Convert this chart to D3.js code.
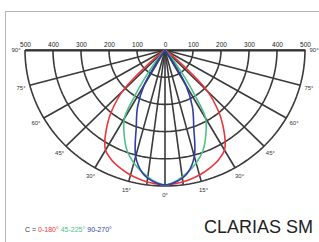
<!DOCTYPE html>
<html>
<head>
<meta charset="utf-8">
<script src="https://cdn.jsdelivr.net/npm/d3@7"></script>
<style>
  body { margin: 0; background: #fff; }
  svg { display: block; font-family: "Liberation Sans", Arial, sans-serif; }
</style>
</head>
<body>
<div id="chart"></div>
<script>
// polar angles (deg from nadir) and intensities (cd) per C-plane
const angles = [0, 5, 10, 15, 20, 25, 30, 32.5, 35, 37.5, 40, 45, 50, 55, 60, 90];
const c0_180 = [496, 492, 485, 476, 463, 448, 425, 400, 368, 335, 300, 215, 60, 10, 0, 0];
const c45_225 = [496, 482, 458, 430, 395, 345, 290, 205, 125, 60, 20, 0, 0, 0, 0, 0];
const c90_270 = [496, 485, 460, 405, 300, 232, 150, 60, 10, 0, 0, 0, 0, 0, 0, 0];

const seriesNames = ["0-180°", "45-225°", "90-270°"];
const seriesColors = ["#e8363c", "#4dbf8c", "#2f3fa6"];

const rings = [100, 200, 300, 400, 500];
const topTicks = [-500, -400, -300, -200, -100, 0, 100, 200, 300, 400, 500];
const spokes = [-90, -75, -60, -45, -30, -15, -7.5, 0, 7.5, 15, 30, 45, 60, 75, 90];
const angleLabels = [-90, -75, -60, -45, -30, -15, 0, 15, 30, 45, 60, 75, 90];

const width = 319, height = 242;
const cx = 165, cy = 50;

const xs = d3.scaleLinear().domain([-500, 500]).range([cx - 140, cx + 140]);
const ry = d3.scaleLinear().domain([0, 500]).range([0, 136]);

function px(r, a) { return xs(r * Math.sin(a * Math.PI / 180)); }
function py(r, a) { return cy + ry(r * Math.cos(a * Math.PI / 180)); }

const svg = d3.select("#chart").append("svg")
    .attr("width", width)
    .attr("height", height);

// frame
svg.append("path")
    .attr("d", "M5.5,242V11.5H319")
    .attr("fill", "none")
    .attr("stroke", "#b4b4b4")
    .attr("stroke-width", 1);

const grid = svg.append("g")
    .attr("stroke", "#3a3a3a")
    .attr("stroke-width", 1.6)
    .attr("fill", "none");

// rings
const arcAngles = d3.range(-90, 90.1, 2);
const ringLine = d3.line();
grid.selectAll(".ring")
    .data(rings)
    .enter()
    .append("path")
    .attr("d", r => ringLine(arcAngles.map(a => [px(r, a), py(r, a)])));

// spokes
grid.selectAll(".spoke")
    .data(spokes)
    .enter()
    .append("line")
    .attr("x1", cx).attr("y1", cy)
    .attr("x2", a => px(500, a))
    .attr("y2", a => py(500, a));

// top axis with intensity labels
const axis = d3.axisTop(xs)
    .tickValues(topTicks)
    .tickFormat(d => Math.abs(d))
    .tickSize(0)
    .tickPadding(3);

const ax = svg.append("g")
    .attr("transform", `translate(0,${cy})`)
    .call(axis);
ax.select(".domain").attr("stroke", "#333").attr("stroke-width", 1.8);
ax.selectAll("text")
    .attr("fill", "#222")
    .style("font-size", "6.5px")
    .style("font-family", "'Liberation Sans Narrow', 'Liberation Sans', Arial, sans-serif");

// angle labels
svg.append("g")
    .selectAll("text")
    .data(angleLabels)
    .enter()
    .append("text")
    .attr("x", a => xs(0) + (xs(500) - xs(0) + 9) * Math.sin(a * Math.PI / 180))
    .attr("y", a => cy + (ry(500) + 9) * Math.cos(a * Math.PI / 180) + 2)
    .attr("text-anchor", "middle")
    .attr("fill", "#333")
    .style("font-size", "6px")
    .text(a => Math.abs(a) + "°");

// curves
const fullAngles = angles.slice().reverse().map(a => -a).concat(angles.slice(1));
function mirror(vals) { return vals.slice().reverse().concat(vals.slice(1)); }

const curve = d3.line()
    .x(d => px(d[1], d[0]))
    .y(d => py(d[1], d[0]))
    .curve(d3.curveCatmullRom.alpha(0.5));

[c0_180, c45_225, c90_270].forEach((vals, i) => {
    const pts = fullAngles.map((a, j) => [a, mirror(vals)[j]]);
    svg.append("path")
        .attr("d", curve(pts))
        .attr("fill", "none")
        .attr("stroke", seriesColors[i])
        .attr("stroke-width", 1.6);
});

// legend
const leg = svg.append("text")
    .attr("x", 25)
    .attr("y", 232)
    .style("font-size", "7px");
leg.append("tspan").attr("fill", "#333").text("C = ");
seriesNames.forEach((n, i) => {
    leg.append("tspan").attr("fill", seriesColors[i]).text(n + " ");
});

// title
svg.append("text")
    .attr("x", 313)
    .attr("y", 233)
    .attr("text-anchor", "end")
    .attr("fill", "#222")
    .style("font-size", "18px")
    .text("CLARIAS SM");
</script>
</body>
</html>
